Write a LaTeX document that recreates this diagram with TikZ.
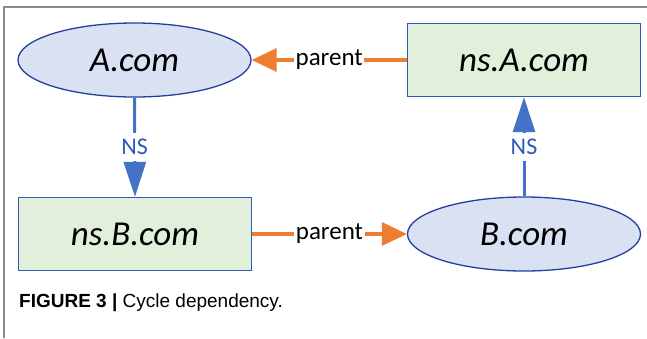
\documentclass[tikz,border=0pt]{standalone}
\usepackage{fontspec}
\setmainfont{Carlito}
\newfontfamily\capfont{Liberation Sans}
\usetikzlibrary{shapes.geometric,arrows.meta}
\definecolor{ellfill}{HTML}{DAE1F2}
\definecolor{ellborder}{HTML}{23409E}
\definecolor{recfill}{HTML}{E2EFDA}
\definecolor{recborder}{HTML}{2F5BB8}
\definecolor{orangeline}{HTML}{ED7D31}
\definecolor{blueline}{HTML}{4472C4}
\definecolor{nstext}{HTML}{2F5BB8}
\definecolor{framegray}{HTML}{8A8A8A}
\begin{document}
\begin{tikzpicture}[x=1pt,y=-1pt,
  ellnode/.style={ellipse, draw=ellborder, line width=1.3pt, fill=ellfill,
    minimum width=233pt, minimum height=74pt, inner sep=0pt,
    font=\fontsize{35}{38}\selectfont\itshape},
  recnode/.style={rectangle, draw=recborder, line width=1.3pt, fill=recfill,
    minimum width=233pt, minimum height=73pt, inner sep=0pt,
    font=\fontsize{35}{38}\selectfont\itshape},
  parentarrow/.style={draw=orangeline, line width=3.5pt,
    -{Triangle[length=25pt,width=23pt]}},
  nsarrow/.style={draw=blueline, line width=3pt,
    -{Triangle[length=35pt,width=22pt]}},
  parentlabel/.style={fill=white, inner xsep=1.5pt, inner ysep=3pt,
    font=\fontsize{25}{28}\selectfont, text=black},
  nslabel/.style={fill=white, inner xsep=2pt, inner ysep=6pt,
    font=\fontsize{24}{26}\selectfont, text=nstext},
  frameline/.style={draw=framegray, line width=1.4pt}
]
\useasboundingbox (0,0) rectangle (647,338);
% frame
\coordinate (ftl) at (4,7);
\coordinate (ftr) at (647,7);
\coordinate (fbl) at (4,338);
\draw[frameline] (ftr) -- (ftl) -- (fbl);
% nodes
\node[ellnode] (acom) at (134.5,60) {A.com};
\node[recnode] (nsa) at (524,60) {ns.A.com};
\node[recnode] (nsb) at (135,234) {ns.B.com};
\node[ellnode] (bcom) at (524,234) {B.com};
% connectors
\draw[parentarrow] (nsa.west) -- node[parentlabel] {parent} (acom.east);
\draw[parentarrow] (nsb.east) -- node[parentlabel] {parent} (bcom.west);
\draw[nsarrow] (acom.south) -- node[nslabel] {NS} (nsb.north);
\draw[nsarrow] (bcom.north) -- node[nslabel] {NS} (nsa.south);
% caption
\node[anchor=west, inner sep=0pt, font=\capfont\fontsize{19}{21}\selectfont] (caption) at (19,303)
  {\textbf{FIGURE 3} \textbf{|} Cycle dependency.};
\end{tikzpicture}
\end{document}
